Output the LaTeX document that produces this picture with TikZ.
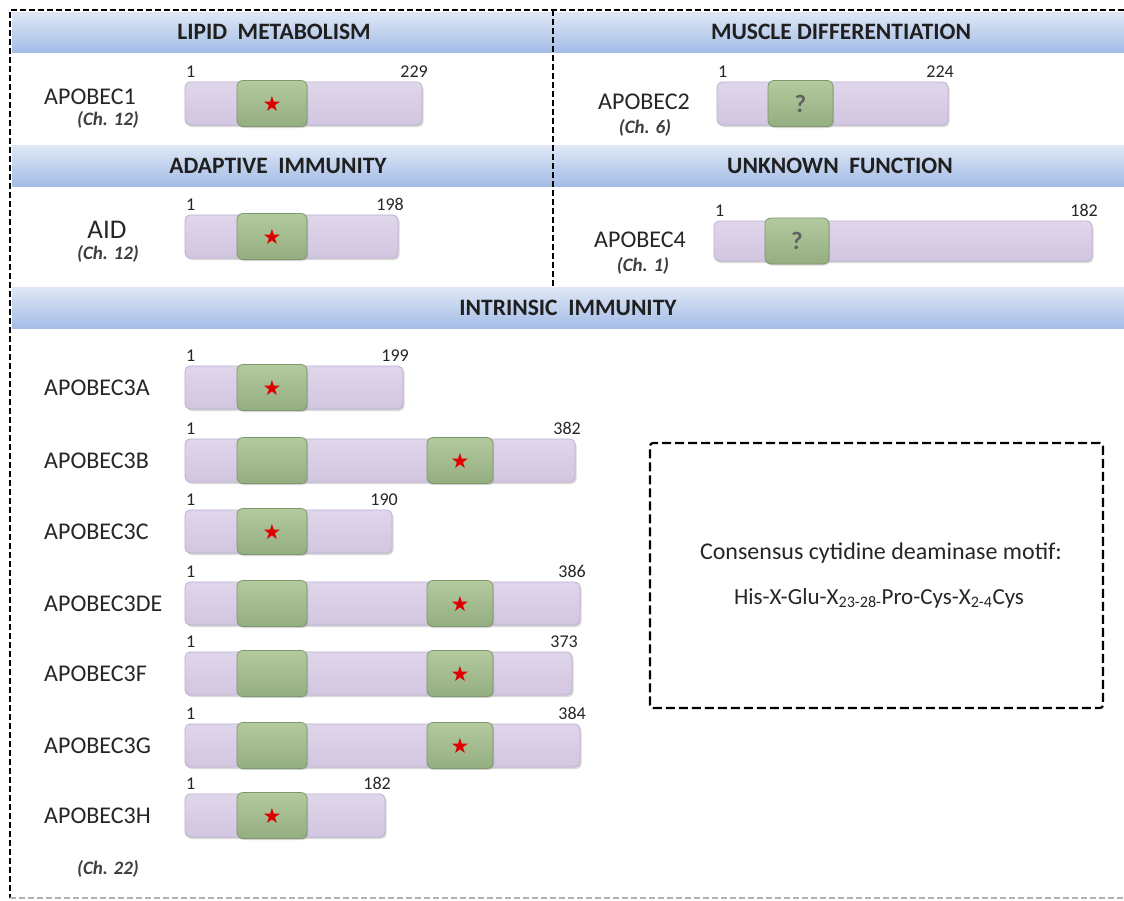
\documentclass[tikz,border=0pt]{standalone}
\usepackage{fontspec}
\setmainfont{Carlito}
\newfontfamily\symfont{DejaVu Sans}
\usetikzlibrary{shadows,calc}
\definecolor{hdtop}{HTML}{DFE7F5}
\definecolor{hdbot}{HTML}{A4BDE6}
\definecolor{bartop}{HTML}{E0D6EB}
\definecolor{barbot}{HTML}{D2C5E0}
\definecolor{barline}{HTML}{BDB0CF}
\definecolor{domtop}{HTML}{B2CA9D}
\definecolor{dombot}{HTML}{95AE81}
\definecolor{domline}{HTML}{7E976B}
\definecolor{txt}{HTML}{262626}
\definecolor{chtxt}{HTML}{3F3F3F}
\definecolor{starred}{HTML}{DD0000}
\tikzset{
  hdr/.style={top color=hdtop, bottom color=hdbot, draw=none},
  hdrtxt/.style={font=\fontsize{23.5}{26}\selectfont\bfseries, text=black!88, inner sep=0pt},
  bar/.style={rectangle, rounded corners=5pt, top color=bartop, bottom color=barbot, draw=barline, line width=0.8pt,
    inner sep=0pt, outer sep=0pt,
    drop shadow={shadow xshift=1.5pt, shadow yshift=-2pt, opacity=0.3}},
  dom/.style={rectangle, rounded corners=6pt, top color=domtop, bottom color=dombot,
    draw=domline, line width=0.8pt, inner sep=0pt, outer sep=0pt, minimum height=46pt,
    drop shadow={shadow xshift=1pt, shadow yshift=-1.5pt, opacity=0.3}},
  num/.style={font=\fontsize{18}{20}\selectfont, text=txt, inner sep=0pt},
  lbl/.style={font=\fontsize{24}{28}\selectfont, text=txt, inner sep=0pt},
  biglbl/.style={font=\fontsize{27}{30}\selectfont, text=txt, inner sep=0pt},
  chr/.style={font=\fontsize{19}{22}\selectfont\bfseries\itshape, text=chtxt, inner sep=0pt},
  outerdash/.style={dash pattern=on 6pt off 3pt, line width=1.8pt},
  motiftxt/.style={font=\fontsize{24}{28}\selectfont, text=txt, inner sep=0pt}
}
% #1 name, #2 left x, #3 top y, #4 right x, #5 height, #6 end number
\newcommand{\pbar}[6]{%
  \node[bar, anchor=north west, minimum width={(#4-#2)*1pt}, minimum height=#5pt] (#1) at (#2,#3) {};
  \node[num, anchor=south west] (#1s) at ([xshift=1pt,yshift=4pt]#1.north west) {1};
  \node[num, anchor=south east] (#1e) at ([xshift=6pt,yshift=4pt]#1.north east) {#6};
}
% #1 name, #2 left x, #3 width, #4 bar name, #5 content
\newcommand{\pdom}[5]{%
  \node[dom, anchor=west, minimum width=#3pt] (#1) at (#2,0 |- #4.west) {#5};
}
\newcommand{\st}{{\symfont\fontsize{21}{21}\selectfont\color{starred}★}}
\newcommand{\qm}{{\fontsize{25}{25}\selectfont\bfseries\color{black!62}?}}
\begin{document}
\begin{tikzpicture}[x=1pt, y=-1pt]
\useasboundingbox (0,0) rectangle (1124,900);
\fill[white] (0,0) rectangle (1124,900);

% headers
\path[hdr] (12,12) rectangle (1124,52);
\path[hdr] (12,145) rectangle (1124,186);
\path[hdr] (12,287) rectangle (1124,328);
\node[hdrtxt] (h1) at (274,32) {LIPID\ \ METABOLISM};
\node[hdrtxt] (h2) at (841,32) {MUSCLE DIFFERENTIATION};
\node[hdrtxt] (h3) at (278,166) {ADAPTIVE\ \ IMMUNITY};
\node[hdrtxt] (h4) at (840,166) {UNKNOWN\ \ FUNCTION};
\node[hdrtxt] (h5) at (568,308) {INTRINSIC\ \ IMMUNITY};

% outer border
\coordinate (tl) at (10,10);
\coordinate (tr) at (1124,10);
\coordinate (bl) at (10,898);
\coordinate (br) at (1124,898);
\draw[outerdash] (tr) -- (tl) -- (bl);
\draw[outerdash, black!30] (bl) -- (br);
\coordinate (dt) at (553,10);
\coordinate (db) at (553,287);
\draw[outerdash] (dt) -- (db);

% top-left: APOBEC1
\pbar{a1}{185}{82}{422}{43}{229}
\pdom{a1d}{237}{70}{a1}{\st}
\node[lbl, anchor=west] (a1l) at (44,97) {APOBEC1};
\node[chr] (a1c) at (108,120) {(Ch. 12)};

% top-right: APOBEC2
\pbar{a2}{717}{82}{948}{43}{224}
\pdom{a2d}{768}{65}{a2}{\qm}
\node[lbl, anchor=west] (a2l) at (598,102) {APOBEC2};
\node[chr] (a2c) at (645,128) {(Ch. 6)};

% AID
\pbar{aid}{185}{215}{398}{43}{198}
\pdom{aidd}{237}{70}{aid}{\st}
\node[biglbl] (aidl) at (107,230) {AID};
\node[chr] (aidc) at (108,254) {(Ch. 12)};

% APOBEC4
\pbar{a4}{714}{221}{1092}{40}{182}
\pdom{a4d}{765}{64}{a4}{\qm}
\node[lbl, anchor=west] (a4l) at (594,240) {APOBEC4};
\node[chr] (a4c) at (643,266) {(Ch. 1)};

% APOBEC3 family
\pbar{a3a}{185}{366}{403}{43}{199}
\pdom{a3ad}{237}{70}{a3a}{\st}
\node[lbl, anchor=west] (a3al) at (44,387.5) {APOBEC3A};

\pbar{a3b}{185}{439}{575}{43}{382}
\pdom{a3bd1}{237}{70}{a3b}{}
\pdom{a3bd2}{427}{66}{a3b}{\st}
\node[lbl, anchor=west] (a3bl) at (44,460.5) {APOBEC3B};

\pbar{a3c}{185}{510}{392}{43}{190}
\pdom{a3cd}{237}{70}{a3c}{\st}
\node[lbl, anchor=west] (a3cl) at (44,531.5) {APOBEC3C};

\pbar{a3de}{185}{582}{580}{43}{386}
\pdom{a3ded1}{237}{70}{a3de}{}
\pdom{a3ded2}{427}{66}{a3de}{\st}
\node[lbl, anchor=west] (a3del) at (44,603.5) {APOBEC3DE};

\pbar{a3f}{185}{652}{572}{43}{373}
\pdom{a3fd1}{237}{70}{a3f}{}
\pdom{a3fd2}{427}{66}{a3f}{\st}
\node[lbl, anchor=west] (a3fl) at (44,673.5) {APOBEC3F};

\pbar{a3g}{185}{724}{580}{43}{384}
\pdom{a3gd1}{237}{70}{a3g}{}
\pdom{a3gd2}{427}{66}{a3g}{\st}
\node[lbl, anchor=west] (a3gl) at (44,745.5) {APOBEC3G};

\pbar{a3h}{185}{794}{385}{43}{182}
\pdom{a3hd}{237}{70}{a3h}{\st}
\node[lbl, anchor=west] (a3hl) at (44,815.5) {APOBEC3H};
\node[chr] (a3c22) at (108,869) {(Ch. 22)};

% motif box
\node[draw, dash pattern=on 9pt off 4pt, line width=2.2pt, rounded corners=3pt,
  minimum width=453pt, minimum height=265pt, inner sep=0pt] (motif) at (876.5,575.5) {};
\node[motiftxt] (m1) at (881,553) {Consensus cytidine deaminase motif:};
\node[motiftxt, font=\fontsize{23}{27}\selectfont] (m2) at (879,598) {His-X-Glu-X\textsubscript{23-28-}Pro-Cys-X\textsubscript{2-4}Cys};
\end{tikzpicture}
\end{document}
